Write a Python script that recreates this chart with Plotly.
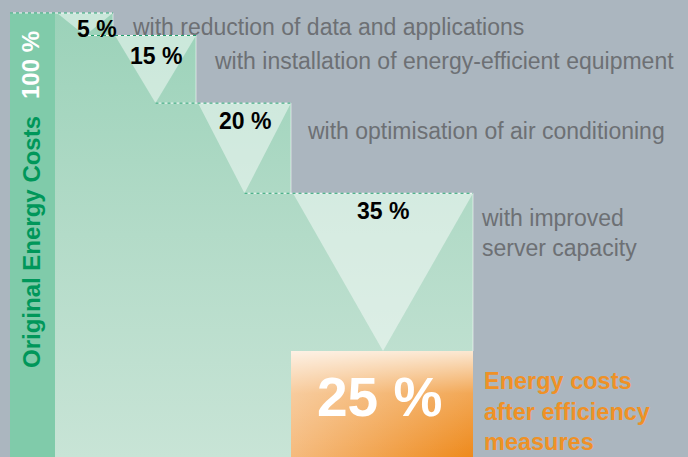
import plotly.graph_objects as go

# ---------------- data ----------------
total_label = "Original Energy Costs"
total_value = 100
total_value_label = "100 %"
reduction_values = [5, 15, 20, 35]
reduction_labels = ["5 %", "15 %", "20 %", "35 %"]
measure_texts = [
    "with reduction of data and applications",
    "with installation of energy-efficient equipment",
    "with optimisation of air conditioning",
    "with improved<br>server capacity",
]
remaining_value = 25
remaining_label = "25 %"
remaining_text = "Energy costs<br>after efficiency<br>measures"

# ---------------- layout / styling ----------------
W, H = 688, 457
step_edges = [55, 113, 196, 291, 473]      # x positions of step boundaries
total_bar_center, total_bar_width = 32.5, 45
Y_RANGE = [1.48, 102.88]
BG = "#abb6bf"
FONT = "Liberation Sans, Arial, sans-serif"
GREEN_TXT = "#00975a"
GREY_TXT = "#6d7074"
ORANGE_TXT = "#ef9126"

# text placement (pixel positions in the picture)
label_px = [(97, 29), (None, 0), (None, 0), (None, 0)]
desc_px = [(130, 27), (212, 61), (305, 131), (479, 233)]
label_drop = [0, 20, 18, 18]   # px below step level for the labels

levels = [total_value]
for r in reduction_values:
    levels.append(levels[-1] - r)
ybot = Y_RANGE[0] - 2


def px(x, y):
    return x / W, 1 - y / H


def val_to_px(v):
    return (Y_RANGE[1] - v) / (Y_RANGE[1] - Y_RANGE[0]) * H


fig = go.Figure()

# staircase area (green gradient)
sx, sy = [step_edges[0]], [ybot]
for i in range(len(reduction_values)):
    sx += [step_edges[i], step_edges[i + 1]]
    sy += [levels[i], levels[i]]
sx += [step_edges[-1], step_edges[0]]
sy += [ybot, ybot]
fig.add_trace(go.Scatter(
    x=sx, y=sy, fill="toself", mode="lines", line=dict(width=0),
    fillgradient=dict(type="vertical", start=Y_RANGE[0], stop=total_value,
                      colorscale=[[0, "#c8e4d6"], [0.5, "#b3dbc8"], [1, "#9bd2b9"]]),
    hoverinfo="skip", showlegend=False))

# original total bar
fig.add_trace(go.Bar(
    x=[total_bar_center], y=[total_value], width=[total_bar_width],
    marker=dict(color="#80cbaa", line=dict(width=0)),
    hoverinfo="skip", showlegend=False))

# triangles for each reduction
for i, r in enumerate(reduction_values):
    x0, x1 = step_edges[i] + 2, step_edges[i + 1]
    xm = (x0 + x1) / 2
    fig.add_trace(go.Scatter(
        x=[x0, x1, xm, x0], y=[levels[i], levels[i], levels[i + 1], levels[i]],
        fill="toself", mode="lines", line=dict(width=0),
        fillcolor="rgba(255,255,255,0.47)", hoverinfo="skip", showlegend=False))

# light vertical edges
vx, vy = [], []
for i in range(len(reduction_values)):
    vx += [step_edges[i + 1], step_edges[i + 1], None]
    vy += [levels[i], levels[i + 1], None]
fig.add_trace(go.Scatter(x=vx, y=vy, mode="lines",
                         line=dict(color="rgba(255,255,255,0.55)", width=1),
                         hoverinfo="skip", showlegend=False))

# dashed level lines
dx, dy = [], []
starts = [total_bar_center - total_bar_width / 2]
for i in range(1, len(reduction_values)):
    starts.append((step_edges[i - 1] + 2 + step_edges[i]) / 2)
for i in range(len(reduction_values)):
    dx += [starts[i], step_edges[i + 1], None]
    dy += [levels[i], levels[i], None]
fig.add_trace(go.Scatter(x=dx, y=dy, mode="lines",
                         line=dict(color="rgba(255,255,255,0.85)", width=1),
                         hoverinfo="skip", showlegend=False))
fig.add_trace(go.Scatter(x=dx, y=dy, mode="lines",
                         line=dict(color="#1f9e6c", width=1, dash="3px,3px"),
                         hoverinfo="skip", showlegend=False))

# remaining (orange) box
bx = [step_edges[-2], step_edges[-1], step_edges[-1], step_edges[-2], step_edges[-2]]
by = [levels[-1], levels[-1], ybot, ybot, levels[-1]]
fig.add_trace(go.Scatter(
    x=bx, y=by, fill="toself", mode="lines", line=dict(width=0),
    fillgradient=dict(type="horizontal", start=step_edges[-2], stop=step_edges[-1],
                      colorscale=[[0, "#f5bb7e"], [1, "#ee8a1c"]]),
    hoverinfo="skip", showlegend=False))
fig.add_trace(go.Scatter(
    x=bx, y=by, fill="toself", mode="lines", line=dict(width=0),
    fillgradient=dict(type="vertical", start=Y_RANGE[0], stop=levels[-1],
                      colorscale=[[0, "rgba(255,255,255,0)"], [0.6, "rgba(255,255,255,0.25)"],
                                  [1, "rgba(255,255,255,0.8)"]]),
    hoverinfo="skip", showlegend=False))

# ---------------- text ----------------
ann = []
x, y = px(31, 242)
ann.append(dict(x=x, y=y, xref="paper", yref="paper", text=total_label,
                textangle=-90, showarrow=False,
                font=dict(family=FONT, size=24, color=GREEN_TXT, weight="bold"),
                xanchor="center", yanchor="middle"))
x, y = px(31, 65)
ann.append(dict(x=x, y=y, xref="paper", yref="paper",
                text=total_value_label, textangle=-90, showarrow=False,
                font=dict(family=FONT, size=24, color="white", weight="bold"),
                xanchor="center", yanchor="middle"))
for i, lab in enumerate(reduction_labels):
    if label_px[i][0] is not None:
        lx, ly = label_px[i]
    else:
        lx = (step_edges[i] + 2 + step_edges[i + 1]) / 2
        ly = val_to_px(levels[i]) + label_drop[i]
    x, y = px(lx, ly)
    ann.append(dict(x=x, y=y, xref="paper", yref="paper", text=lab, showarrow=False,
                    font=dict(family=FONT, size=23, color="black", weight="bold"),
                    xanchor="center", yanchor="middle"))
    x, y = px(*desc_px[i])
    ann.append(dict(x=x, y=y, xref="paper", yref="paper",
                    text=measure_texts[i], showarrow=False, align="left",
                    font=dict(family=FONT, size=23, color=GREY_TXT),
                    xanchor="left", yanchor="middle"))
x, y = px(379, 397)
ann.append(dict(x=x, y=y, xref="paper", yref="paper",
                text=remaining_label, showarrow=False,
                font=dict(family=FONT, size=55, color="white", weight="bold"),
                xanchor="center", yanchor="middle"))
x, y = px(482, 411)
ann.append(dict(x=x, y=y, xref="paper", yref="paper",
                text=remaining_text, showarrow=False, align="left",
                font=dict(family=FONT, size=23.5, color=ORANGE_TXT, weight="bold"),
                xanchor="left", yanchor="middle"))

fig.update_layout(
    width=W, height=H, margin=dict(l=0, r=0, t=0, b=0),
    paper_bgcolor=BG, plot_bgcolor=BG, showlegend=False,
    xaxis=dict(range=[0, W], visible=False, fixedrange=True),
    yaxis=dict(range=Y_RANGE, visible=False, fixedrange=True),
    annotations=ann, hovermode=False,
)

fig.write_html("out.html", config={"displayModeBar": False},
               post_script="document.body.style.margin='0px';document.body.style.overflow='hidden';")
